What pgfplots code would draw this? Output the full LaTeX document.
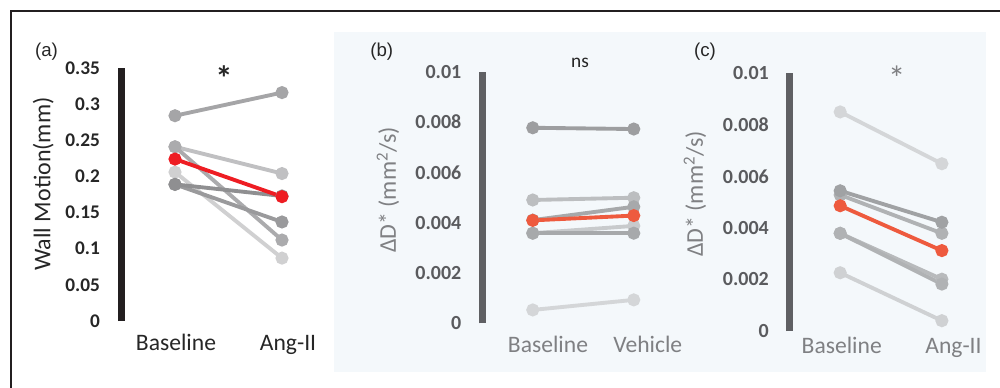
\documentclass[border=0pt]{standalone}
\usepackage{pgfplots}
\pgfplotsset{compat=1.18}
\usepackage{fontspec}
\setmainfont{Carlito}
\newfontfamily\arial{Liberation Sans}
\definecolor{frame}{HTML}{231F20}
\definecolor{bgblue}{HTML}{F4F8FB}
\definecolor{barb}{HTML}{5F6063}
\definecolor{ticka}{HTML}{262626}
\definecolor{tickb}{HTML}{5A5B5E}
\definecolor{labb}{HTML}{7F8083}
\definecolor{reda}{HTML}{EE1D23}
\definecolor{redb}{HTML}{EE5A3E}
\definecolor{gA1}{HTML}{A5A5A7}
\definecolor{gA2}{HTML}{C0C0C2}
\definecolor{gA3}{HTML}{ABABAD}
\definecolor{gA5}{HTML}{D0D0D1}
\definecolor{gA6}{HTML}{9A9A9C}
\definecolor{gA7}{HTML}{8F8F91}
\definecolor{gB1}{HTML}{9D9EA0}
\definecolor{gB2}{HTML}{BCBEC0}
\definecolor{gB4}{HTML}{A7A9AB}
\definecolor{gB5}{HTML}{A7A9AB}
\definecolor{gB6}{HTML}{C8CACC}
\definecolor{gB7}{HTML}{D4D6D8}
\definecolor{gC1}{HTML}{D4D6D8}
\definecolor{gC2}{HTML}{A0A2A4}
\definecolor{gC3}{HTML}{B0B2B4}
\definecolor{gC5}{HTML}{B8BABC}
\definecolor{gC6}{HTML}{B0B2B4}
\definecolor{gC7}{HTML}{CFD1D3}
\pgfplotsset{
  pair/.style={line width=2.9pt, mark=*, mark size=3.4pt, mark options={solid}},
  panel/.style={scale only axis, clip=false, axis x line=none, axis y line=left,
    xmin=-0.5, xmax=1.5, ymin=0, major tick length=0pt, scaled y ticks=false,
    y axis line style={-, line width=4.9pt},
    yticklabel style={inner sep=0pt, anchor=east}},
}
\begin{document}
\begin{tikzpicture}
\path[use as bounding box] (0,0) rectangle (750pt,290.25pt);
\fill[bgblue] (250.5pt,11.25pt) rectangle (739.5pt,266.25pt);
\draw[frame, line width=1.5pt] (8.25pt,-1pt) -- (8.25pt,282pt) -- (751pt,282pt);

% Panel (a)
\begin{axis}[panel, at={(91.125pt,49.5pt)}, anchor=south west,
  width=160.5pt, height=189.75pt, ymax=0.35,
  y axis line style={color=frame},
  ytick={0,0.05,0.1,0.15,0.2,0.25,0.3,0.35},
  yticklabels={0,0.05,0.1,0.15,0.2,0.25,0.3,0.35},
  yticklabel style={font=\fontsize{14.5}{16}\selectfont\bfseries, text=ticka, xshift=-16pt}]
\addplot[pair, color=gA1] coordinates {(0,0.284) (1,0.316)};
\addplot[pair, color=gA2] coordinates {(0,0.241) (1,0.204)};
\addplot[pair, color=gA3] coordinates {(0,0.241) (1,0.112)};
\addplot[pair, color=gA5] coordinates {(0,0.206) (1,0.087)};
\addplot[pair, color=gA6] coordinates {(0,0.189) (1,0.137)};
\addplot[pair, color=gA7] coordinates {(0,0.189) (1,0.173)};
\addplot[pair, color=reda] coordinates {(0,0.224) (1,0.172)};
\end{axis}

% Panel (b)
\begin{axis}[panel, at={(361.7pt,47.8pt)}, anchor=south west,
  width=151.5pt, height=188.7pt, ymax=0.01,
  y axis line style={color=barb},
  ytick={0,0.002,0.004,0.006,0.008,0.01},
  yticklabels={0,0.002,0.004,0.006,0.008,0.01},
  yticklabel style={font=\fontsize{15}{17}\selectfont\bfseries, text=tickb, xshift=-15.5pt}]
\addplot[pair, color=gB1] coordinates {(0,0.00777) (1,0.00772)};
\addplot[pair, color=gB2] coordinates {(0,0.00490) (1,0.00499)};
\addplot[pair, color=gB4] coordinates {(0,0.00410) (1,0.00463)};
\addplot[pair, color=gB6] coordinates {(0,0.00358) (1,0.00387)};
\addplot[pair, color=gB5] coordinates {(0,0.00358) (1,0.00358)};
\addplot[pair, color=gB7] coordinates {(0,0.00053) (1,0.00093)};
\addplot[pair, color=redb] coordinates {(0,0.00409) (1,0.00428)};
\end{axis}

% Panel (c)
\begin{axis}[panel, at={(592pt,42pt)}, anchor=south west,
  width=152.55pt, height=193.3pt, ymax=0.01,
  y axis line style={color=barb},
  ytick={0,0.002,0.004,0.006,0.008,0.01},
  yticklabels={0,0.002,0.004,0.006,0.008,0.01},
  yticklabel style={font=\fontsize{15}{17}\selectfont\bfseries, text=tickb, xshift=-15.2pt}]
\addplot[pair, color=gC1] coordinates {(0,0.00850) (1,0.00649)};
\addplot[pair, color=gC3] coordinates {(0,0.00528) (1,0.00379)};
\addplot[pair, color=gC2] coordinates {(0,0.00544) (1,0.00422)};
\addplot[pair, color=gC5] coordinates {(0,0.00379) (1,0.00201)};
\addplot[pair, color=gC6] coordinates {(0,0.00379) (1,0.00182)};
\addplot[pair, color=gC7] coordinates {(0,0.00226) (1,0.00040)};
\addplot[pair, color=redb] coordinates {(0,0.00486) (1,0.00312)};
\end{axis}

% Panel letters
\node[font=\arial\fontsize{14}{16}\selectfont, text=ticka] at (34.9pt,251.25pt) {(a)};
\node[font=\arial\fontsize{14}{16}\selectfont, text=ticka] at (286.3pt,251.25pt) {(b)};
\node[font=\arial\fontsize{14}{16}\selectfont, text=ticka] at (528.75pt,251.25pt) {(c)};

% Y labels
\node[rotate=90, font=\fontsize{18}{20}\selectfont, text=ticka] at (32.5pt,152.25pt) {Wall Motion(mm)};
\node[rotate=90, font=\fontsize{18}{20}\selectfont, text=labb] at (291pt,147.75pt) {ΔD* (mm\textsuperscript{2}/s)};
\node[rotate=90, font=\fontsize{18}{20}\selectfont, text=labb] at (521.25pt,144.75pt) {ΔD* (mm\textsuperscript{2}/s)};

% X labels
\node[anchor=base, font=\fontsize{17.7}{20}\selectfont, text=ticka] at (132pt,27.2pt) {Baseline};
\node[anchor=base, font=\fontsize{17.7}{20}\selectfont, text=ticka] at (216pt,27.2pt) {Ang-II};
\node[anchor=base, font=\fontsize{17.7}{20}\selectfont, text=labb] at (411pt,25.7pt) {Baseline};
\node[anchor=base, font=\fontsize{17.7}{20}\selectfont, text=labb] at (485.8pt,25.7pt) {Vehicle};
\node[anchor=base, font=\fontsize{17.7}{20}\selectfont, text=labb] at (631.3pt,25.5pt) {Baseline};
\node[anchor=base, font=\fontsize{17.7}{20}\selectfont, text=labb] at (715.1pt,25.5pt) {Ang-II};

% Significance marks
\node[font=\fontsize{26}{28}\selectfont\bfseries, text=ticka] at (168pt,232pt) {*};
\node[font=\fontsize{14.5}{16}\selectfont, text=ticka] at (435pt,243pt) {ns};
\node[font=\fontsize{26}{28}\selectfont, text=labb] at (672.5pt,231.5pt) {*};
\end{tikzpicture}
\end{document}
